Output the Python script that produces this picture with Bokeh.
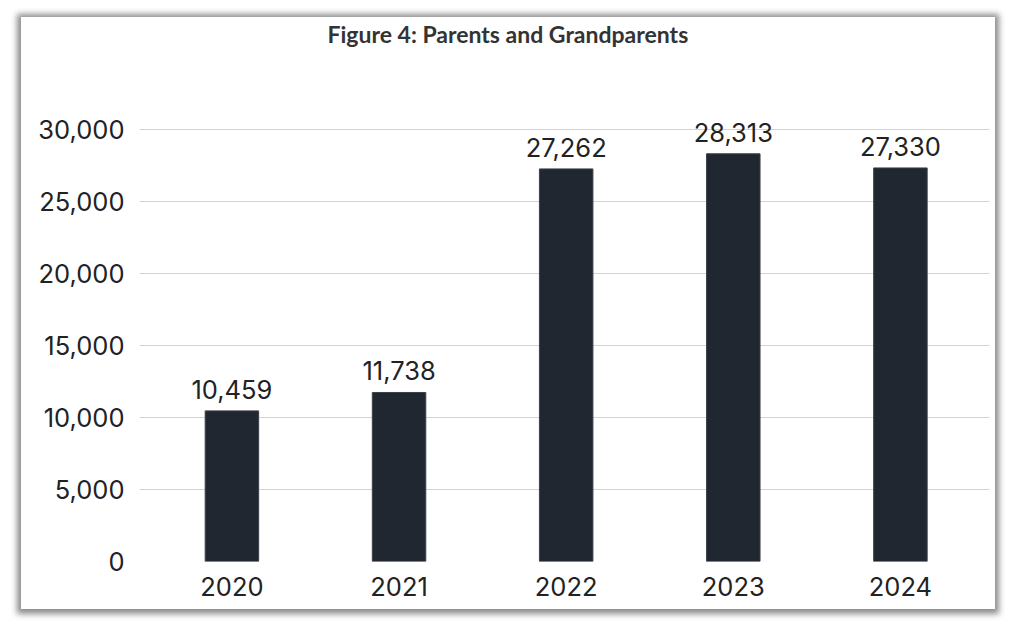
from bokeh.plotting import figure
from bokeh.models import ColumnDataSource, FixedTicker, NumeralTickFormatter, Range1d
from bokeh.embed import file_html
from bokeh.resources import INLINE
from bokeh.core.properties import value

# Yearly counts for the parents and grandparents stream
years = ["2020", "2021", "2022", "2023", "2024"]
counts = [10459, 11738, 27262, 28313, 27330]
y_ticks = [0, 5000, 10000, 15000, 20000, 25000, 30000]

positions = list(range(len(years)))
labels = [f"{c:,}" for c in counts]
src = ColumnDataSource(dict(x=positions, top=counts, label=labels))

p = figure(
    width=974, height=592,
    output_backend="svg", toolbar_location=None,
    x_range=Range1d(-0.553, 4.533), y_range=Range1d(0, 35694),
    title="Figure 4: Parents and Grandparents",
    min_border_left=118, min_border_right=6, min_border_top=0, min_border_bottom=48,
)
p.margin = (17, 0, 0, 21)
p.styles = {"box-shadow": "0px 1px 6px 4px rgba(0,0,0,0.45)"}

p.title.align = "left"
p.title.offset = 188
p.title.standoff = 0
p.title.text_font = "Lato"
p.title.text_font_style = "bold"
p.title.text_font_size = "23px"
p.title.text_color = "#333333"

p.vbar(x="x", top="top", width=0.32, source=src,
       fill_color="#212730", line_color="#3a4048", line_width=1)

p.text(x="x", y="top", text="label", source=src,
       text_align="center", text_baseline="bottom", y_offset=-12,
       text_font=value("Inter"), text_font_size="25.5px", text_color="#222222")

p.outline_line_color = None
p.background_fill_color = "white"
p.border_fill_color = "white"

p.xgrid.grid_line_color = None
p.ygrid.grid_line_color = "#d3d3d3"
p.ygrid.grid_line_width = 1

p.yaxis.ticker = FixedTicker(ticks=y_ticks)
p.yaxis.formatter = NumeralTickFormatter(format="0,0")
p.xaxis.ticker = FixedTicker(ticks=positions)
p.xaxis.major_label_overrides = {i: y for i, y in enumerate(years)}

for ax in (p.xaxis, p.yaxis):
    ax.axis_line_color = None
    ax.major_tick_line_color = None
    ax.minor_tick_line_color = None
    ax.major_label_text_font = "Inter"
    ax.major_label_text_font_size = "25.5px"
    ax.major_label_text_color = "#222222"
p.yaxis.major_label_standoff = 9
p.xaxis.major_label_standoff = 9

open("out.html", "w").write(file_html(p, INLINE))
